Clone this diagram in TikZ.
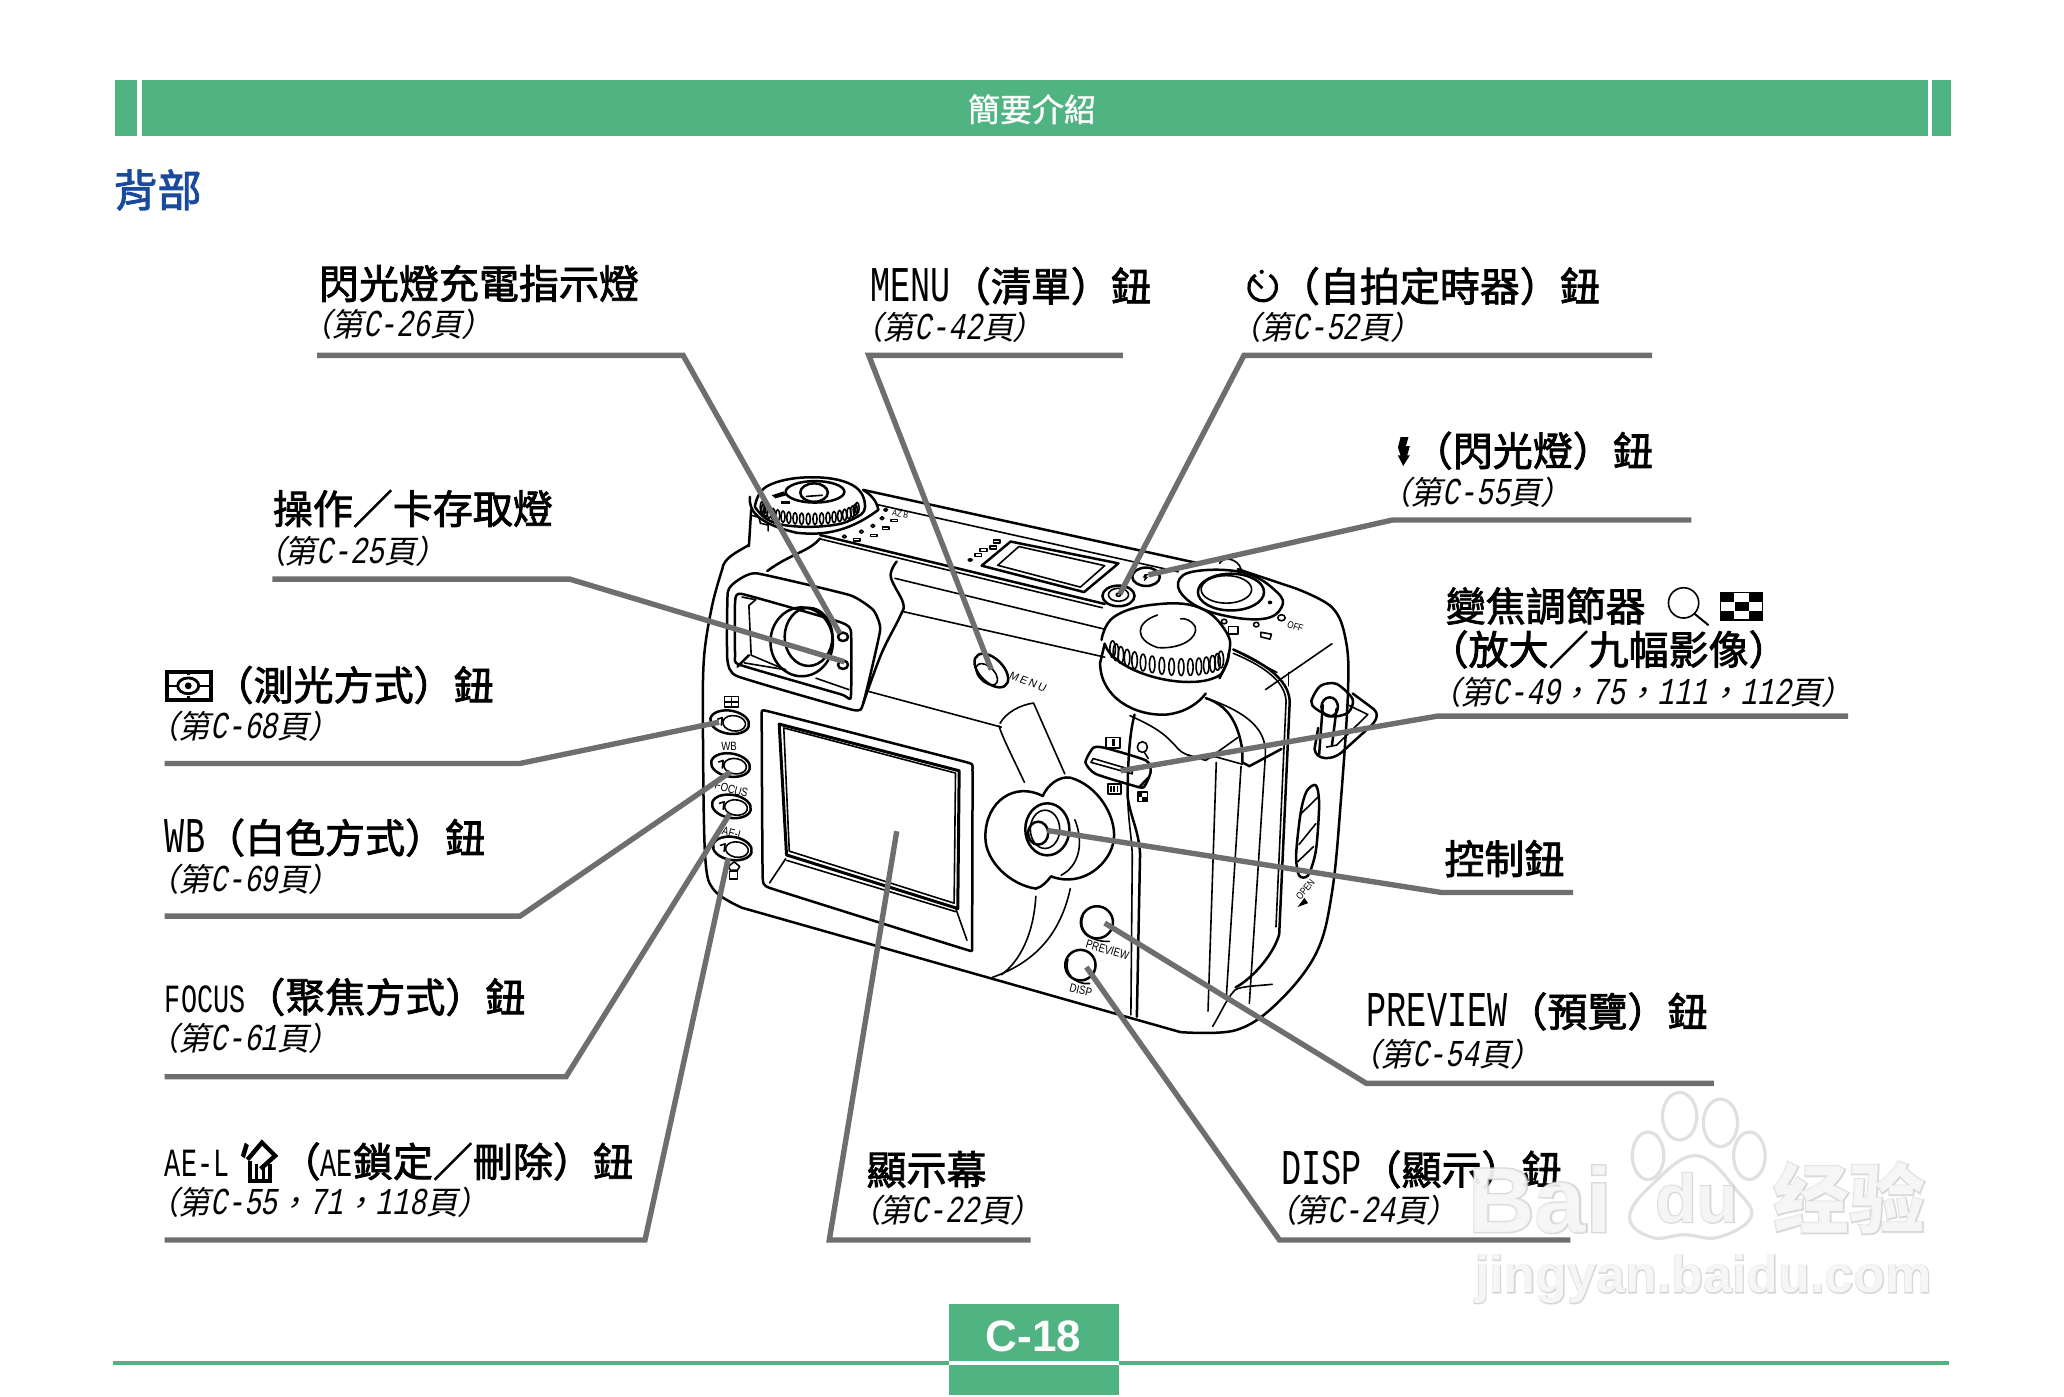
\documentclass[tikz,border=0pt]{standalone}
\usepackage{fontspec}
\setmainfont{Liberation Sans}
\newfontfamily\cjkf{Noto Sans CJK TC}
\newfontfamily\hdcjk[FakeBold=2]{Noto Sans CJK TC}
\newfontfamily\ttlcjk[FakeBold=1]{Noto Sans CJK TC}
\newfontfamily\cjksc{Noto Sans CJK SC}
\newfontfamily\rfcjk[FakeSlant=0.2,RawFeature={+palt}]{Noto Sans CJK TC}
\newfontfamily\rfcomma[FakeSlant=0.2]{Noto Sans CJK TC}
\newfontfamily\hdlat[FakeStretch=0.67]{Liberation Mono}
\newfontfamily\rflat[FakeStretch=0.74,FakeSlant=0.2]{Liberation Mono}
\newfontfamily\camf[FakeStretch=0.8]{Liberation Sans}
\newfontfamily\camsp[LetterSpace=18,FakeSlant=0.12]{Liberation Sans}
\newfontfamily\wmo[FakeBold=3]{Liberation Sans}
\newfontfamily\wmi{Liberation Sans}
\newfontfamily\wmoc[FakeBold=3]{Noto Sans CJK SC}
\definecolor{hgreen}{HTML}{50B482}
\definecolor{hblue}{HTML}{1A4A9C}
\definecolor{lgray}{HTML}{6E6E6E}
\newcommand\fsz[1]{\fontsize{#1}{#1}\selectfont}
\newcommand\hL[1]{{\hdlat\fsz{25}#1}}
\newcommand\hS[1]{{\hdlat\fsz{20}#1}}
\newcommand\rL[1]{{\rflat\fsz{19}#1}}
\newcommand\rC{{\rfcomma ，}}
\tikzset{
 hd/.style={anchor=base west,inner sep=0pt,yshift=-.6pt,font=\hdcjk\fsz{20}},
 rf/.style={anchor=base west,inner sep=0pt,yshift=-.6pt,font=\rfcjk\fsz{16}},
 conn/.style={draw=lgray,line width=2.7pt,line join=miter},
 cam/.style={line width=1.25pt,line cap=round,line join=round},
 thn/.style={line width=0.8pt,line cap=round,line join=round},
 tiny/.style={inner sep=0pt,font=\camf\fsz{6}},
}
\begin{document}
\begin{tikzpicture}[x=0.65816pt,y=-0.65816pt]
\useasboundingbox (0,0) rectangle (1568,1061);
% header
\fill[hgreen] (87,61) rectangle (104,103);
\fill[hgreen] (108,61) rectangle (1465,103);
\fill[hgreen] (1468,61) rectangle (1482,103);
\node[inner sep=0pt,text=white,font=\ttlcjk\fsz{16}] (title) at (784,83) {簡要介紹};
\node[anchor=base west,inner sep=0pt,text=hblue,font=\hdcjk\fsz{22}] (sect) at (86,157) {背部};
% footer
\draw[hgreen,line width=2pt] (86,1035.5) -- (721,1035.5) (850,1035.5) -- (1481,1035.5);
\fill[hgreen] (721,991) rectangle (850,1034);
\fill[hgreen] (721,1037) rectangle (850,1060);
\node[inner sep=0pt,text=white,font=\bfseries\fsz{22}] (pg) at (785,1015.5) {C-18};

% ===== camera =====
\begin{scope}[shift={(516.6,349.5)},xscale=0.3488,yscale=0.2907]
% body outline
\draw[cam] plot[smooth,tension=.55] coordinates {(92,285) (70,380) (52,520) (50,720) (55,1040) (75,1125) (135,1170)} -- (1090,1495) plot[smooth,tension=.6] coordinates {(1090,1495) (1210,1490) (1300,1420) (1385,1290) (1420,1130) (1440,880) (1455,600) (1450,470) (1420,385) (1340,335)} -- (1215,285);
\draw[cam] (399,78) -- (1130,270);
\draw[thn] (432,117) -- (1085,292);
\draw[cam] (305,196) -- (925,376);
\draw[thn] (305,206) -- (920,386);
\draw[thn] (486,396) -- (925,515);
\draw[thn] (468,309) -- (925,442);
\draw[thn] (1205,495) -- (1300,555);
\draw[thn] (1275,600) -- (1420,480);
\draw[thn] (1325,555) -- (1325,590);
% top lcd
\draw[cam] (657,276) -- (720,213) -- (955,270) -- (880,345) -- cycle;
\draw[thn] (692,275) -- (738,226) -- (925,276) -- (872,332) -- cycle;
% top labels
\foreach \p in {(448,130),(440,152),(420,172),(395,187),(358,200)} \draw[thn] \p circle (4);
\foreach \x/\y in {467/158,448/178,422/197,385/208} \draw[thn] (\x-7,\y-3) rectangle (\x+7,\y+3);
\node[tiny,rotate=-12,font=\camf\fsz{4.5}] (az) at (480,140) {AZ B};
\foreach \x/\y in {690/213,682/228,661/235,650/248} \draw[thn] (\x-7,\y-4) rectangle (\x+7,\y+4);
\fill (632,261) ellipse (6 and 5);
% left dial
\draw[cam] plot[smooth,tension=.7] coordinates {(163,122) (190,68) (283,45) (375,65) (403,122) (375,155) (320,172) (240,172) (190,155) (163,122)};
\draw[cam] (152,96) .. controls (150,130) and (165,165) .. (254,190) .. controls (300,196) and (360,195) .. (432,130) .. controls (428,105) and (415,90) .. (399,78);
\draw[cam] (294,83) ellipse (64 and 28);
\draw[cam] (292,85) ellipse (30 and 24);
\draw[thn] (275,95) -- (310,92);
\foreach \a in {172,164,...,8}{
  \pgfmathsetmacro\px{283+105*cos(\a)}
  \pgfmathsetmacro\py{118+36*sin(\a)}
  \draw[thn] (\px,\py) ellipse (4.5 and 15);
}
\fill (200,92) -- (225,82) -- (232,92) -- (208,100) -- cycle;
\fill (220,108) rectangle (240,116);
% lug
\draw[cam] (155,130) -- (150,225);
\draw[thn] (158,145) -- (172,150) -- (175,165) -- (192,170) -- (192,185);
\draw[cam] (150,222) .. controls (125,240) and (95,255) .. (92,285);
\draw[cam] (305,205) .. controls (280,240) and (240,245) .. (190,290);
% viewfinder hood
\draw[cam] plot[smooth cycle,tension=.25] coordinates {(104,345) (125,315) (167,296) (370,353) (421,392) (436,444) (399,636) (377,653) (125,565) (103,520)};
\draw[cam] plot[smooth cycle,tension=.25] coordinates {(120,370) (135,350) (340,420) (372,445) (372,620) (350,612) (130,535) (120,510)};
\draw[thn] (135,358) -- (165,365) -- (150,380) -- (155,510) -- (230,548);
\draw[thn] (296,570) -- (368,600);
\draw[cam] (150,510) -- (125,540);
\draw[thn] (140,530) -- (230,548);
\draw[cam] (265,475) ellipse (68 and 90);
\draw[cam] (280,462) ellipse (52 and 76);
\draw[cam] (355,462) ellipse (11 and 11);
\draw[cam] (355,535) ellipse (11 and 11);
\draw[cam] plot[smooth,tension=.6] coordinates {(472,265) (459,305) (486,374) (479,409) (439,505) (399,636)};
% body lines
\draw[thn] (412,605) -- (700,698);
\draw[thn] (980,668) .. controls (1040,700) and (1060,720) .. (1085,755) .. controls (1100,775) and (1140,785) .. (1165,775);
% menu button
\draw[cam,rotate around={-55:(678,550)}] (678,550) ellipse (50 and 28);
\draw[thn,rotate around={-55:(668,560)}] (668,560) ellipse (32 and 18);
\node[tiny,rotate=-20,font=\camsp\fsz{5.5}] (mn) at (757,580) {MENU};
% left buttons
\foreach \y/\sh in {685/0,797/2,905/4,1015/6}{
  \draw[cam,rotate around={-14:(108+\sh,\y)}] (108+\sh,\y) ellipse (43 and 30);
  \draw[thn] (82+\sh,\y-8) -- (92+\sh,\y-12) -- (90+\sh,\y+8);
  \draw[thn,rotate around={-14:(118+\sh,\y+3)}] (118+\sh,\y+3) ellipse (25 and 20);
}
\draw[thn] (97,618) rectangle (127,645);
\draw[thn] (97,632) -- (127,632); \draw[thn] (112,622) -- (112,642);
\node[tiny] (wb) at (107,748) {WB};
\node[tiny,rotate=-15] (fc) at (112,860) {FOCUS};
\node[tiny,rotate=-15] (ael) at (115,975) {AE-L};
\draw[thn] (105,1062) -- (118,1050) -- (130,1062) -- (125,1072) -- (110,1072) -- cycle;
\draw[thn] (108,1075) rectangle (125,1095);
% LCD
\draw[cam] plot[smooth cycle,tension=.12] coordinates {(178,668) (190,656) (625,790) (637,810) (636,1270) (625,1280) (195,1118) (180,1090)};
\draw[line width=1.5pt,line join=round] (216,690) -- (608,812) -- (605,1172) -- (232,1032) -- cycle;
\draw[thn] (226,700) -- (600,818) -- (597,1158) -- (238,1022) -- cycle;
\draw[thn] (230,1042) -- (195,1105);
\draw[thn] (600,1170) -- (625,1255);
\draw[thn] (232,1046) -- (600,1180);
% swoosh
\draw[thn] (697,688) .. controls (710,660) and (740,640) .. (770,635) -- (838,820);
\draw[thn] (695,695) .. controls (700,720) and (730,790) .. (750,842);
\draw[cam] (790,878) .. controls (730,840) and (665,890) .. (665,985) .. controls (665,1050) and (720,1110) .. (775,1120) .. controls (790,1115) and (800,1100) .. (808,1088);
\draw[cam] (790,878) .. controls (800,850) and (825,825) .. (850,830) .. controls (910,850) and (950,930) .. (945,990) .. controls (940,1050) and (880,1120) .. (808,1088);
\draw[thn] (860,940) .. controls (880,1000) and (870,1060) .. (830,1085);
\draw[cam] (800,965) ellipse (48 and 68);
\draw[cam] (780,975) ellipse (22 and 30);
\draw[thn] (795,965) ellipse (32 and 50);
\draw[thn] (850,1120) .. controls (830,1230) and (780,1310) .. (680,1352);
\draw[thn] (775,1140) .. controls (770,1240) and (740,1310) .. (700,1345);
% preview & disp
\draw[cam] (908,1208) ellipse (35 and 42);
\draw[thn] (878,1190) .. controls (865,1225) and (890,1260) .. (935,1258);
\node[tiny,rotate=-17] (pv) at (931,1280) {PREVIEW};
\draw[cam] (872,1320) ellipse (33 and 40);
\draw[thn] (845,1305) .. controls (835,1340) and (860,1372) .. (892,1368);
\node[tiny,rotate=-14] (ds) at (873,1385) {DISP};
% self timer & flash
\draw[cam] (955,355) ellipse (35 and 27);
\draw[thn] (955,352) ellipse (22 and 17);
\draw[thn] (955,352) ellipse (5 and 4);
\draw[cam] (1015,305) ellipse (30 and 24);
\fill (1012,298) -- (1020,298) -- (1015,305) -- (1020,305) -- (1010,318) -- (1012,307) -- (1008,307) -- cycle;
% shutter
\draw[cam] plot[smooth cycle,tension=.7] coordinates {(1085,320) (1125,290) (1230,295) (1300,345) (1310,385) (1270,415) (1180,405) (1110,370)};
\draw[cam] (1200,345) ellipse (72 and 48);
\draw[thn] (1190,338) ellipse (55 and 36);
\fill (1285,372) circle (5);
\draw[thn] (1175,270) .. controls (1185,250) and (1215,258) .. (1222,285);
\draw[thn] (1310,412) circle (8); \draw[thn] (1255,430) circle (6); \draw[thn] (1185,422) circle (6);
\draw[thn] (1195,435) rectangle (1215,455);
\draw[thn] (1265,450) -- (1288,455) -- (1285,468) -- (1265,462) -- cycle;
\node[tiny,rotate=-18,font=\camf\fsz{5}] (off) at (1340,435) {OFF};
% zoom knob
\draw[cam] plot[smooth,tension=.7] coordinates {(918,470) (945,410) (1030,378) (1130,385) (1190,450) (1195,510) (1175,570)};
\draw[cam] (925,480) .. controls (945,560) and (1120,610) .. (1178,560) .. controls (1190,540) and (1195,520) .. (1195,505);
\draw[cam] (925,480) -- (915,530) .. controls (915,620) and (990,670) .. (1060,665) .. controls (1100,660) and (1130,635) .. (1145,610);
\draw[thn] (1040,405) .. controls (990,425) and (990,470) .. (1040,490) .. controls (1090,495) and (1130,465) .. (1122,435) .. controls (1115,420) and (1100,412) .. (1090,415);
\foreach \a in {165,155,...,15}{
  \pgfmathsetmacro\px{1060+122*cos(\a)}
  \pgfmathsetmacro\py{497+42*sin(\a)+14*cos(\a)}
  \draw[thn] (\px,\py) ellipse (6 and 22);
}
% right body
\draw[cam] (990,665) .. controls (980,710) and (975,780) .. (975,880) .. controls (980,930) and (1000,970) .. (1002,1030) -- (995,1455);
\draw[thn] (975,870) .. controls (975,940) and (985,990) .. (985,1040) -- (982,1450);
\draw[cam] (1145,622) .. controls (1190,640) and (1215,680) .. (1225,760) -- (1225,790) -- (1240,800) -- (1310,755);
\draw[thn] (1160,628) .. controls (1230,660) and (1278,700) .. (1275,770) -- (1240,1420);
\draw[thn] (1168,790) -- (1150,1440);
\draw[thn] (1222,800) -- (1190,1400);
\draw[cam] (1205,495) .. controls (1270,530) and (1325,570) .. (1328,630) -- (1305,1240) .. controls (1290,1300) and (1240,1360) .. (1210,1378);
\draw[thn] (1205,505) .. controls (1265,535) and (1318,575) .. (1320,630) -- (1298,1220);
\draw[thn] (1205,1390) .. controls (1210,1375) and (1250,1375) .. (1290,1370);
\draw[thn] (1160,1480) .. controls (1180,1440) and (1190,1410) .. (1205,1390);
\draw[thn] (1225,795) -- (1165,775);
\draw[thn] (1105,770) -- (1145,785) -- (1215,725);
% zoom lever
\draw[cam] plot[smooth cycle,tension=.35] coordinates {(883,790) (900,752) (925,752) (1015,785) (1025,815) (1010,855) (985,850) (905,820)};
\draw[thn] (895,790) -- (985,820) -- (985,810) -- (900,780) -- cycle;
\draw[cam] (1020,830) -- (1000,855);
\draw[thn] (928,725) rectangle (958,752);
\fill (940,730) rectangle (947,748);
\draw[thn] (1007,750) ellipse (11 and 14); \draw[thn] (1012,765) -- (1020,780);
\draw[thn] (932,847) rectangle (960,872);
\foreach \x in {937,944,951} \fill (\x,852) rectangle (\x+4,867);
\fill (997,868) rectangle (1007,880); \fill (1007,880) rectangle (1018,892);
\draw[thn] (997,868) rectangle (1018,892);
% side door
\draw[cam] plot[smooth cycle,tension=.5] coordinates {(1385,850) (1392,900) (1385,1020) (1368,1085) (1348,1085) (1342,1030) (1352,920) (1365,865)};
\draw[thn] (1352,925) -- (1390,880);
\draw[thn] (1348,1005) -- (1385,950);
\draw[thn] (1345,1050) -- (1380,1010);
\node[tiny,rotate=50,font=\camf\fsz{5}] (opn) at (1362,1122) {OPEN};
\fill (1345,1168) -- (1368,1158) -- (1360,1144) -- cycle;
% strap
\draw[cam] plot[smooth cycle,tension=.5] coordinates {(1375,630) (1395,590) (1430,585) (1465,625) (1455,660) (1420,670) (1385,650)};
\draw[cam] (1415,645) ellipse (18 and 25);
\draw[cam] (1400,640) -- (1392,770);
\draw[cam] (1430,650) -- (1420,745);
\draw[cam] (1465,610) -- (1510,650) .. controls (1525,665) and (1515,685) .. (1500,700) -- (1440,765) .. controls (1420,785) and (1385,785) .. (1382,755) -- (1390,700);
\draw[thn] (1455,640) -- (1498,665) -- (1430,745) -- (1408,750);
% connector ends
\coordinate (e1) at (348,453);
\coordinate (e2) at (678,548);
\coordinate (e3) at (958,350);
\coordinate (e4) at (1020,300);
\coordinate (e5) at (358,527);
\coordinate (e6) at (85,685);
\coordinate (e7) at (110,815);
\coordinate (e8) at (108,925);
\coordinate (e9) at (105,1040);
\coordinate (e10) at (472,970);
\coordinate (e11) at (885,1325);
\coordinate (e12) at (925,1210);
\coordinate (e13) at (800,968);
\coordinate (e14) at (960,812);
\end{scope}

% connectors
\coordinate (a1) at (241,270); \coordinate (b1) at (519,270);
\coordinate (a2) at (853,270); \coordinate (b2) at (660,270);
\coordinate (a3) at (1255,270); \coordinate (b3) at (945,270);
\coordinate (a4) at (1285,395); \coordinate (b4) at (1058,395);
\coordinate (a5) at (207,440); \coordinate (b5) at (433,440);
\coordinate (a6) at (125,580); \coordinate (b6) at (395,580);
\coordinate (a7) at (125,696); \coordinate (b7) at (395,696);
\coordinate (a8) at (125,818); \coordinate (b8) at (430,818);
\coordinate (a9) at (125,942); \coordinate (b9) at (490,942);
\coordinate (a10) at (783,942); \coordinate (b10) at (630,942);
\coordinate (a11) at (1193,942); \coordinate (b11) at (972,942);
\coordinate (a12) at (1302,823); \coordinate (b12) at (1038,823);
\coordinate (a13) at (1195,678); \coordinate (b13) at (1095,678);
\coordinate (a14) at (1404,544); \coordinate (b14) at (1092,544);
\foreach \i in {1,...,14} \draw[conn] (a\i) -- (b\i) -- (e\i);

% labels
\node[hd] (t1) at (242,226) {閃光燈充電指示燈};
\node[rf] (r1) at (239,255) {（第\rL{C-26}頁）};
\node[hd] (t2) at (661,228) {\hL{MENU}（清單）鈕};
\node[rf] (r2) at (658,257) {（第\rL{C-42}頁）};
\node[hd] (t3) at (972,228) {（自拍定時器）鈕};
\node[rf] (r3) at (945,257) {（第\rL{C-52}頁）};
\node[hd] (t4) at (1073,353) {（閃光燈）鈕};
\node[rf] (r4) at (1059,382) {（第\rL{C-55}頁）};
\node[hd] (t5) at (207,397) {操作／卡存取燈};
\node[rf] (r5) at (204,427) {（第\rL{C-25}頁）};
\node[hd] (t6) at (162,531) {（測光方式）鈕};
\node[rf] (r6) at (123,560) {（第\rL{C-68}頁）};
\node[hd] (t7) at (125,647) {\hL{WB}（白色方式）鈕};
\node[rf] (r7) at (123,676) {（第\rL{C-69}頁）};
\node[hd] (t8) at (125,768) {\hS{FOCUS}（聚焦方式）鈕};
\node[rf] (r8) at (123,797) {（第\rL{C-61}頁）};
\node[hd] (t9a) at (125,893) {\hS{AE-L}};
\node[hd] (t9) at (213,893) {（\hS{AE}鎖定／刪除）鈕};
\node[rf] (r9) at (123,922) {（第\rL{C-55}\rC\rL{71}\rC\rL{118}頁）};
\node[hd] (t10) at (658,899) {顯示幕};
\node[rf] (r10) at (656,928) {（第\rL{C-22}頁）};
\node[hd] (t11) at (973,899) {\hL{DISP}（顯示）鈕};
\node[rf] (r11) at (972,928) {（第\rL{C-24}頁）};
\node[hd] (t12) at (1038,779) {\hL{PREVIEW}（預覽）鈕};
\node[rf] (r12) at (1036,809) {（第\rL{C-54}頁）};
\node[hd] (t13) at (1097,663) {控制鈕};
\node[hd] (t14a) at (1098,471) {變焦調節器};
\node[hd] (t14b) at (1085,504) {（放大／九幅影像）};
\node[rf] (r14) at (1097,534) {（第\rL{C-49}\rC\rL{75}\rC\rL{111}\rC\rL{112}頁）};
% icons
\draw[line width=2pt] (126.5,510.5) rectangle (160,532);
\draw[line width=1.3pt] (126,521) -- (135,521) (151,521) -- (160,521);
\draw[line width=1.4pt] (143,521) ellipse (8 and 6);
\fill (143,521) circle (2.6);
\draw[line width=1.3pt] (143,510) -- (143,513) (143,529) -- (143,532);
% clock
\draw[line width=1.6pt] (954,209) arc (240:-60:10.5);
\fill (958.5,206.5) circle (1.6);
\draw[line width=1.4pt] (952,212) -- (959,219);
% flash bolt
\fill (1064,332) -- (1070,332) -- (1068,339) -- (1071,339) -- (1069,346) -- (1071,346) -- (1066,354) -- (1062,346) -- (1064,346) -- (1062,340) -- cycle;
% ae-l icon
\fill (183,878) -- (186,868) -- (189,870) -- (186,880) -- cycle;
\draw[line width=2.2pt,line join=miter] (188,881) -- (199,868) -- (209,878) -- (198,888);
\draw[line width=1.8pt] (190,882) -- (190,897) -- (205,897) -- (205,884);
\draw[line width=1.3pt] (195,884) -- (195,896) (200,884) -- (200,896);
% magnifier
\draw[line width=.8pt] (1279,458) circle (11.5);
\draw[line width=1pt] (1287,466) -- (1298,475);
% checker
\draw[line width=.8pt] (1307,450) rectangle (1339,471);
\foreach \x/\y in {1307/450,1318/457,1329/450,1307/464,1329/464} \fill (\x,\y) rectangle (\x+10.5,\y+7);

% watermark
\begin{scope}[opacity=.75]
\foreach \p/\wrx/\wry in {(1276,848)/13/18,(1307,853)/13/18,(1252,878)/12/18,(1329,878)/12/18}{
  \draw[gray!32,line width=1.6pt,fill=white] \p ellipse [x radius=\wrx,y radius=\wry];
}
\draw[gray!32,line width=1.6pt,fill=white] plot[smooth cycle,tension=.7] coordinates {(1289,878) (1320,905) (1330,925) (1305,940) (1280,938) (1255,940) (1238,925) (1255,900)};
\node[inner sep=0pt,text=gray!38,font=\wmo\bfseries\fsz{46}] (wa) at (1170,911) {Bai};
\node[inner sep=0pt,text=white,font=\wmi\bfseries\fsz{46}] (wb2) at (1170,911) {Bai};
\node[inner sep=0pt,text=gray!38,font=\wmo\bfseries\fsz{34}] (wc) at (1289,910) {du};
\node[inner sep=0pt,text=white,font=\wmi\bfseries\fsz{34}] (wd) at (1289,910) {du};
\node[inner sep=0pt,text=gray!38,font=\wmoc\bfseries\fsz{38}] (we) at (1405,910) {经验};
\node[inner sep=0pt,text=white,font=\cjksc\bfseries\fsz{38}] (wf) at (1405,910) {经验};
\node[inner sep=0pt,text=gray!38,font=\wmo\bfseries\fsz{26}] (wg) at (1294,972) {jingyan.baidu.com};
\node[inner sep=0pt,text=white,font=\wmi\bfseries\fsz{26}] (wh) at (1294,972) {jingyan.baidu.com};
\end{scope}
\end{tikzpicture}
\end{document}
